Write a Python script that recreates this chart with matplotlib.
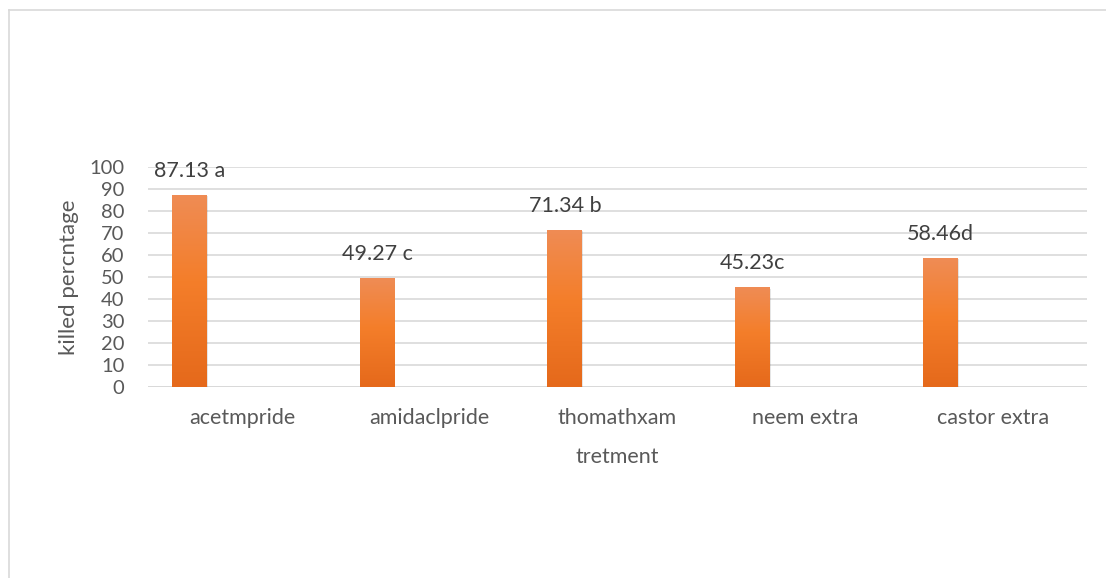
import matplotlib
matplotlib.use("Agg")
import matplotlib.pyplot as plt
import numpy as np
from matplotlib.colors import LinearSegmentedColormap
from matplotlib.lines import Line2D

categories = ["acetmpride", "amidaclpride", "thomathxam", "neem extra", "castor extra"]
values = [87.13, 49.27, 71.34, 45.23, 58.46]
value_labels = ["87.13 a", "49.27 c", "71.34 b", "45.23c", "58.46d"]
yticks = [0, 10, 20, 30, 40, 50, 60, 70, 80, 90, 100]

plt.rcParams['font.family'] = ['Lato', 'DejaVu Sans']
text_color = "#595959"
grid_color = "#D9D9D9"

fig = plt.figure(figsize=(11.06, 5.78), dpi=100)
ax = fig.add_axes([148/1106, 1-387/578, 939/1106, 220.4/578])

x = np.arange(len(categories))
offset = -0.28
width = 0.186

cmap = LinearSegmentedColormap.from_list("og", [(0, "#E5691B"), (0.55, "#F47E2A"), (1, "#EF8C55")])
grad = np.linspace(0, 1, 256).reshape(-1, 1)

# shadows
ax.bar(x + offset + 0.004, values, width=width, bottom=-0.6, color="#000000", alpha=0.10, zorder=2, linewidth=0)
bars = ax.bar(x + offset, values, width=width, color="none", zorder=3, linewidth=0)
for b in bars:
    x0, y0 = b.get_x(), b.get_y()
    w, h = b.get_width(), b.get_height()
    im = ax.imshow(grad, cmap=cmap, origin="lower", extent=[x0, x0 + w, y0, y0 + h],
                   aspect="auto", zorder=3, interpolation="bilinear")
    im.set_clip_path(b)

for xi, v, lab in zip(x, values, value_labels):
    ax.annotate(lab, (xi + offset, v), xytext=(0, 13), textcoords="offset points",
                ha="center", va="baseline", fontsize=15.5, color="#404040")

ax.set_xlim(-0.5, len(categories) - 0.5)
ax.set_ylim(0, 100)
ax.set_yticks(yticks)
ax.set_xticks(x)
ax.set_xticklabels(categories)
ax.tick_params(axis="both", length=0, colors=text_color)
ax.tick_params(axis="x", pad=15, labelsize=15.5)
ax.tick_params(axis="y", pad=17, labelsize=14.5)
for s in ax.spines.values():
    s.set_visible(False)
ax.yaxis.grid(True, color=grid_color, linewidth=1.2, zorder=0)
ax.set_axisbelow(True)
ax.axhline(0, color=grid_color, linewidth=1.4, zorder=1)

ax.set_ylabel("killed percntage", fontsize=16, color=text_color)
ax.yaxis.set_label_coords(-0.084, 0.5)
ax.yaxis.label.set_va("center")
ax.set_xlabel("tretment", fontsize=15.5, color=text_color)
ax.xaxis.set_label_coords(0.5, -0.318)
ax.xaxis.label.set_va("center")

# outer frame (top and left)
fig.add_artist(Line2D([8.5/1106, 1.0], [1-9.5/578, 1-9.5/578], transform=fig.transFigure, color="#D9D9D9", linewidth=1.2))
fig.add_artist(Line2D([8.5/1106, 8.5/1106], [0, 1-9.5/578], transform=fig.transFigure, color="#D9D9D9", linewidth=1.2))

fig.savefig("out.png", dpi=100)
